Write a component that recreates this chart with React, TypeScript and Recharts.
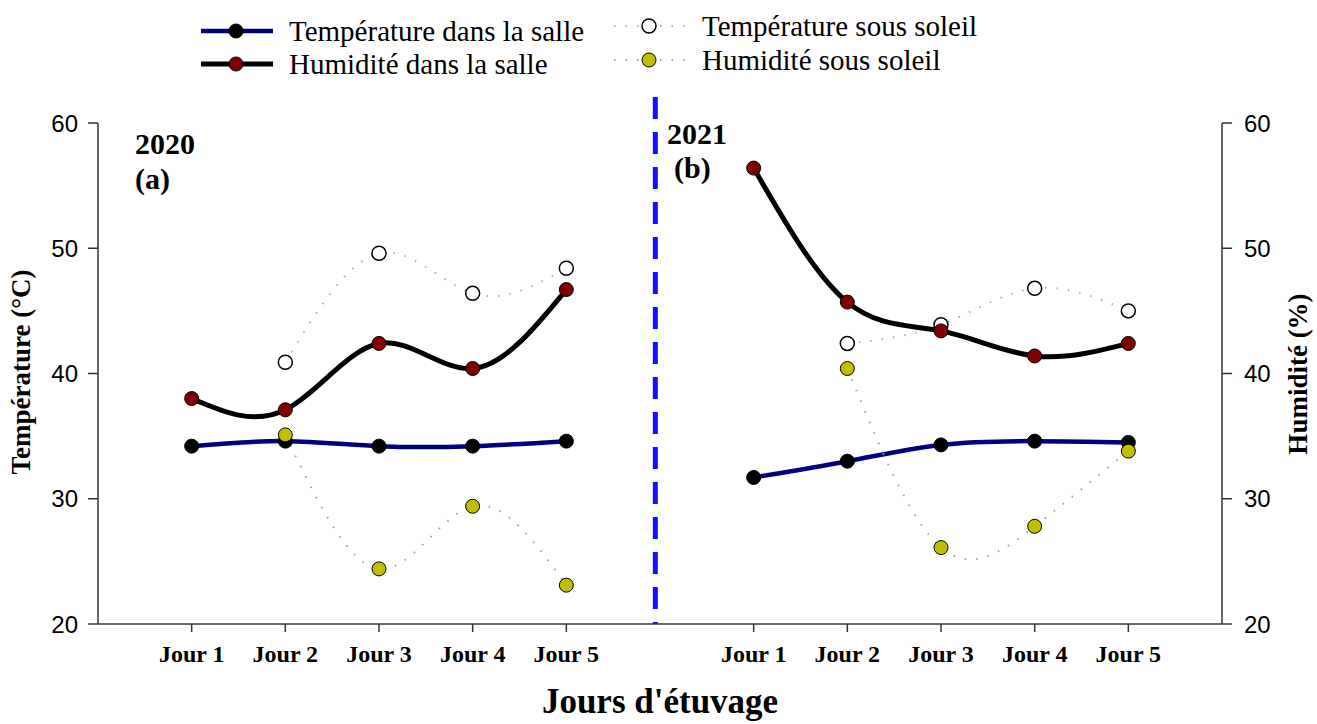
import React from "react";
import {
  LineChart,
  Line,
  XAxis,
  YAxis,
  ReferenceLine,
} from "recharts";

// Jour 1..5 for each year; 2020 sits at x 1-5, 2021 at x 7-11
const dayLabels = ["Jour 1", "Jour 2", "Jour 3", "Jour 4", "Jour 5"];
const pos2020 = [1, 2, 3, 4, 5];
const pos2021 = [7, 8, 9, 10, 11];

const tempSalle2020 = [34.2, 34.6, 34.2, 34.2, 34.6];
const humSalle2020 = [38.0, 37.1, 42.4, 40.4, 46.7];
const tempSoleil2020 = [null, 40.9, 49.6, 46.4, 48.4];
const humSoleil2020 = [null, 35.1, 24.4, 29.4, 23.1];

const tempSalle2021 = [31.7, 33.0, 34.3, 34.6, 34.5];
const humSalle2021 = [56.4, 45.7, 43.4, 41.4, 42.4];
const tempSoleil2021 = [null, 42.4, 43.9, 46.8, 45.0];
const humSoleil2021 = [null, 40.4, 26.1, 27.8, 33.8];

const yTicks = [20, 30, 40, 50, 60];

const SERIF = "'Liberation Serif', 'Times New Roman', serif";
const SANS = "'Liberation Sans', Arial, sans-serif";

const NAVY = "#000080";
const DARK_RED = "#800000";
const OLIVE = "#bfbf00";
const SKY = "#8ab8e0";
const GREY = "#a0a0a0";

function toPoints(xs: number[], ys: (number | null)[]) {
  return xs
    .map((x, i) => ({ x, y: ys[i] }))
    .filter((p) => p.y !== null);
}

const allTicks = [...pos2020, ...pos2021];
const tickLabel = (v: number) => {
  const i = pos2020.indexOf(v);
  if (i >= 0) return dayLabels[i];
  const j = pos2021.indexOf(v);
  return j >= 0 ? dayLabels[j] : "";
};

const salleTemp = { stroke: NAVY, strokeWidth: 4.5 };
const salleHum = { stroke: "#000", strokeWidth: 5 };
const soleilTemp = { stroke: SKY, strokeWidth: 2, strokeDasharray: "1.5 10" };
const soleilHum = { stroke: GREY, strokeWidth: 2, strokeDasharray: "1.5 10" };

const dotTempSalle = { r: 7, fill: "#000", stroke: "#000", strokeWidth: 1, strokeDasharray: "none" };
const dotHumSalle = { r: 7, fill: DARK_RED, stroke: "#000", strokeWidth: 1, strokeDasharray: "none" };
const dotTempSoleil = { r: 7, fill: "#fff", stroke: "#000", strokeWidth: 1.5, strokeDasharray: "none" };
const dotHumSoleil = { r: 7, fill: OLIVE, stroke: "#000", strokeWidth: 1, strokeDasharray: "none" };

function LegendEntry({
  x,
  y,
  label,
  line,
  dot,
}: {
  x: number;
  y: number;
  label: string;
  line: any;
  dot: any;
}) {
  return (
    <g>
      <line x1={x} y1={y} x2={x + 72} y2={y} {...line} />
      <circle cx={x + 35} cy={y} {...dot} />
      <text
        x={x + 88}
        y={y + 10}
        fontFamily={SERIF}
        fontSize={29}
        fill="#000"
      >
        {label}
      </text>
    </g>
  );
}

export default function App() {
  return (
    <div
      style={{
        position: "absolute",
        left: 0,
        top: 0,
        width: 1317,
        height: 724,
        background: "#fff",
      }}
    >
      <LineChart
        width={1317}
        height={724}
        margin={{ top: 123, right: 0, bottom: 0, left: 0 }}
      >
        <XAxis
          type="number"
          dataKey="x"
          domain={[0, 12]}
          ticks={allTicks}
          tickFormatter={tickLabel}
          interval={0}
          height={100}
          tickSize={8}
          tickMargin={13}
          axisLine={{ stroke: "#333", strokeWidth: 1.5 }}
          tickLine={{ stroke: "#333", strokeWidth: 1.5 }}
          tick={{
            fill: "#000",
            fontFamily: SERIF,
            fontWeight: "bold",
            fontSize: 24,
          }}
          label={{
            value: "Jours d'étuvage",
            position: "insideBottom",
            offset: 11,
            fill: "#000",
            fontFamily: SERIF,
            fontWeight: "bold",
            fontSize: 35,
          }}
        />
        <YAxis
          yAxisId="left"
          domain={[20, 60]}
          ticks={yTicks}
          width={98}
          tickSize={10}
          tickMargin={10}
          axisLine={{ stroke: "#333", strokeWidth: 1.5 }}
          tickLine={{ stroke: "#333", strokeWidth: 1.5 }}
          tick={{ fill: "#000", fontFamily: SANS, fontSize: 24 }}
          label={{
            content: () => (
              <text
                x={30}
                y={372}
                transform="rotate(-90 30 372)"
                textAnchor="middle"
                fontFamily={SERIF}
                fontWeight="bold"
                fontSize={27}
                fill="#000"
              >
                Température (°C)
              </text>
            ),
          }}
        />
        <YAxis
          yAxisId="right"
          orientation="right"
          domain={[20, 60]}
          ticks={yTicks}
          width={95}
          tickSize={10}
          tickMargin={12}
          axisLine={{ stroke: "#333", strokeWidth: 1.5 }}
          tickLine={{ stroke: "#333", strokeWidth: 1.5 }}
          tick={{ fill: "#000", fontFamily: SANS, fontSize: 24 }}
          label={{
            content: () => (
              <text
                x={1307}
                y={374}
                transform="rotate(-90 1307 374)"
                textAnchor="middle"
                fontFamily={SERIF}
                fontWeight="bold"
                fontSize={27}
                fill="#000"
              >
                Humidité (%)
              </text>
            ),
          }}
        />

        <ReferenceLine
          yAxisId="left"
          x={5.95}
          shape={(p: any) => {
            const top = Math.min(p.y1, p.y2) - 26;
            const bottom = Math.max(p.y1, p.y2);
            return (
              <line
                x1={p.x1}
                x2={p.x1}
                y1={top}
                y2={bottom}
                stroke="#1010ff"
                strokeWidth={5}
                strokeDasharray="22 13"
              />
            );
          }}
        />

        {/* 2020 */}
        <Line
          yAxisId="left"
          data={toPoints(pos2020, tempSoleil2020)}
          dataKey="y"
          type="natural"
          {...soleilTemp}
          dot={dotTempSoleil}
          activeDot={false}
          isAnimationActive={false}
        />
        <Line
          yAxisId="left"
          data={toPoints(pos2020, tempSalle2020)}
          dataKey="y"
          type="natural"
          {...salleTemp}
          dot={dotTempSalle}
          activeDot={false}
          isAnimationActive={false}
        />
        <Line
          yAxisId="right"
          data={toPoints(pos2020, humSalle2020)}
          dataKey="y"
          type="natural"
          {...salleHum}
          dot={dotHumSalle}
          activeDot={false}
          isAnimationActive={false}
        />
        <Line
          yAxisId="right"
          data={toPoints(pos2020, humSoleil2020)}
          dataKey="y"
          type="natural"
          {...soleilHum}
          dot={dotHumSoleil}
          activeDot={false}
          isAnimationActive={false}
        />

        {/* 2021 */}
        <Line
          yAxisId="left"
          data={toPoints(pos2021, tempSoleil2021)}
          dataKey="y"
          type="natural"
          {...soleilTemp}
          dot={dotTempSoleil}
          activeDot={false}
          isAnimationActive={false}
        />
        <Line
          yAxisId="left"
          data={toPoints(pos2021, tempSalle2021)}
          dataKey="y"
          type="natural"
          {...salleTemp}
          dot={dotTempSalle}
          activeDot={false}
          isAnimationActive={false}
        />
        <Line
          yAxisId="right"
          data={toPoints(pos2021, humSalle2021)}
          dataKey="y"
          type="natural"
          {...salleHum}
          dot={dotHumSalle}
          activeDot={false}
          isAnimationActive={false}
        />
        <Line
          yAxisId="right"
          data={toPoints(pos2021, humSoleil2021)}
          dataKey="y"
          type="natural"
          {...soleilHum}
          dot={dotHumSoleil}
          activeDot={false}
          isAnimationActive={false}
        />

        {/* year annotations */}
        <text x={135} y={154} fontFamily={SERIF} fontWeight="bold" fontSize={30} fill="#000">
          2020
        </text>
        <text x={135} y={189} fontFamily={SERIF} fontWeight="bold" fontSize={30} fill="#000">
          (a)
        </text>
        <text x={667} y={144} fontFamily={SERIF} fontWeight="bold" fontSize={30} fill="#000">
          2021
        </text>
        <text x={674} y={178} fontFamily={SERIF} fontWeight="bold" fontSize={30} fill="#000">
          (b)
        </text>

        {/* legend */}
        <LegendEntry x={201} y={31} label="Température dans la salle" line={salleTemp} dot={dotTempSalle} />
        <LegendEntry x={201} y={64} label="Humidité dans la salle" line={salleHum} dot={dotHumSalle} />
        <LegendEntry x={614} y={26} label="Température sous soleil" line={soleilTemp} dot={dotTempSoleil} />
        <LegendEntry x={614} y={60} label="Humidité sous soleil" line={soleilHum} dot={dotHumSoleil} />
      </LineChart>
    </div>
  );
}
